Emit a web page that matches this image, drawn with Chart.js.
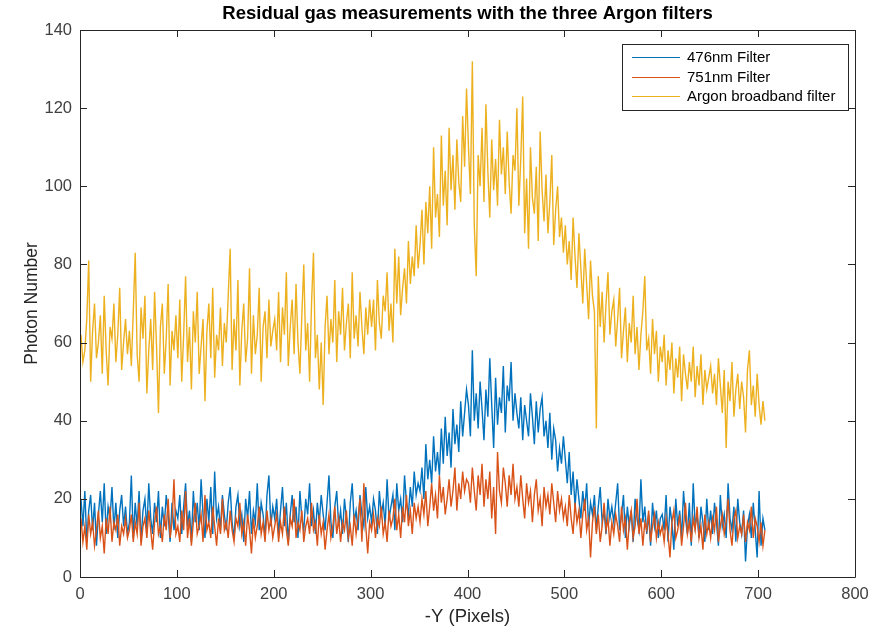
<!DOCTYPE html>
<html>
<head>
<meta charset="utf-8">
<script src="https://cdn.jsdelivr.net/npm/chart.js@4.4.1/dist/chart.umd.min.js"></script>
<style>
  html, body { margin: 0; padding: 0; background: #fff; }
  canvas { display: block; }
</style>
</head>
<body>
<canvas id="chart" width="873" height="627"></canvas>
<script>
// Pixel column sampling: first column and step between samples
const xStart = 1;
const xStep = 2;

const xTicks = [0, 100, 200, 300, 400, 500, 600, 700, 800];
const yTicks = [0, 20, 40, 60, 80, 100, 120, 140];

const labels476 = '476nm Filter';
const labels751 = '751nm Filter';
const labelsArgon = 'Argon broadband filter';

const blue476 = [
  20, 13, 22, 9, 17, 21, 12, 19, 8, 16, 22, 14, 24, 11, 18, 15, 23, 12, 19, 10, 17, 21, 13, 18, 11,
  14, 26, 10, 19, 13, 22, 9, 17, 20, 12, 24, 15, 11, 19, 14, 22, 10, 18, 13, 21, 16, 9, 19, 12, 17,
  15, 21, 11, 18, 24, 13, 17, 9, 22, 14, 19, 12, 25, 16, 10, 20, 14, 23, 11, 27, 15, 18, 12, 21, 16,
  12, 19, 23, 14, 10, 18, 21, 13, 16, 9, 20, 15, 22, 11, 17, 14, 24, 12, 19, 16, 10, 21, 26, 13, 18,
  15, 20, 11, 17, 23, 13, 19, 9, 16, 21, 14, 18, 10, 22, 15, 12, 20, 16, 24, 13, 17, 11, 19, 14, 21,
  16, 12, 19, 26, 14, 10, 18, 22, 13, 17, 11, 20, 15, 9, 19, 24, 14, 17, 12, 21, 16, 13, 23, 15, 18,
  14, 20, 17, 11, 22, 16, 19, 13, 25, 15, 18, 21, 12, 24, 17, 20, 14, 26, 19, 16, 23, 18, 27, 21, 24,
  22, 28, 20, 34, 25, 30, 24, 36, 27, 32, 26, 38, 29, 41, 31, 37, 28, 43, 34, 39, 32, 45, 36, 42, 48,
  44, 36, 58, 40, 47, 38, 50, 43, 35, 48, 41, 56, 44, 33, 51, 39, 46, 42, 54, 37, 49, 45, 55, 40, 47,
  42, 38, 46, 35, 44, 40, 36, 47, 41, 34, 45, 37, 43, 46, 36, 40, 33, 42, 30, 38, 35, 27, 33, 29, 36,
  30, 24, 32, 21, 27, 18, 25, 20, 15, 22, 17, 24, 13, 19, 16, 21, 12, 18, 23, 14, 17, 11, 20, 15, 18,
  14, 19, 24, 12, 16, 21, 10, 18, 13, 17, 9, 20, 15, 12, 25, 14, 18, 11, 16, 8, 19, 13, 17, 10, 15,
  16, 12, 21, 9, 18, 14, 7, 20, 13, 17, 10, 22, 15, 11, 19, 8, 24, 13, 16, 10, 18, 14, 9, 20, 12,
  17, 11, 19, 14, 8, 21, 13, 16, 10, 24, 15, 12, 18, 9, 20, 14, 11, 17, 4, 13, 16, 10, 19, 12, 5,
  22, 8, 15, 12
];

const orange751 = [
  15, 9, 13, 7, 16, 11, 14, 8, 12, 17, 10, 13, 6, 15, 11, 18, 9, 14, 12, 16, 8, 13, 11, 15, 10,
  12, 16, 9, 14, 11, 19, 8, 13, 15, 10, 17, 12, 7, 14, 18, 11, 13, 9, 16, 12, 20, 10, 14, 25, 11,
  13, 9, 17, 12, 22, 10, 15, 8, 14, 19, 11, 13, 16, 9, 21, 12, 14, 10, 18, 13, 8, 15, 11, 20, 12,
  14, 10, 17, 12, 9, 15, 13, 19, 11, 14, 8, 16, 12, 6, 15, 10, 13, 18, 11, 14, 9, 17, 12, 15, 10,
  13, 16, 9, 14, 11, 18, 12, 8, 15, 13, 20, 10, 14, 12, 17, 9, 13, 15, 11, 19, 12, 14, 8, 16, 11,
  14, 7, 12, 16, 10, 13, 18, 11, 15, 9, 14, 12, 17, 10, 13, 8, 16, 11, 15, 20, 9, 24, 13, 6, 14,
  12, 16, 10, 15, 13, 18, 11, 14, 9, 17, 13, 15, 20, 12, 16, 10, 18, 14, 21, 13, 17, 11, 19, 15, 18,
  14, 20, 16, 22, 13, 18, 24, 17, 21, 15, 26, 19, 23, 16, 20, 25, 18, 22, 28, 17, 24, 20, 27, 22, 25,
  24, 19, 28, 22, 17, 26, 21, 29, 18, 25, 20, 27, 15, 23, 11, 32, 22, 19, 28, 24, 18, 26, 21, 29, 20,
  23, 18, 26, 20, 15, 24, 19, 22, 14, 21, 25, 17, 20, 13, 23, 18, 21, 16, 24, 19, 14, 22, 17, 20, 15,
  18, 13, 21, 15, 11, 19, 14, 17, 10, 16, 20, 12, 15, 5, 14, 18, 11, 16, 9, 13, 19, 12, 15, 8, 14,
  11, 16, 13, 9, 18, 12, 15, 7, 14, 17, 10, 13, 20, 11, 15, 8, 14, 12, 17, 9, 13, 16, 10, 14, 11,
  13, 9, 15, 11, 5, 14, 17, 10, 12, 16, 8, 13, 19, 11, 14, 9, 15, 12, 18, 10, 13, 7, 16, 11, 14,
  10, 15, 12, 18, 9, 13, 16, 11, 14, 20, 12, 8, 15, 17, 10, 13, 11, 16, 9, 14, 12, 18, 10, 15, 13,
  9, 14, 8, 12
];

const argonBroad = [
  62, 55, 58, 66, 81, 50, 63, 70, 56, 60, 67, 52, 72, 58, 49, 64, 61, 70, 55, 62, 74, 53, 60, 66, 57,
  63, 54, 68, 83, 57, 50, 69, 61, 72, 47, 58, 66, 53, 73, 59, 42, 64, 70, 52, 61, 75, 49, 63, 58, 67,
  56, 71, 50, 62, 77, 55, 64, 48, 68, 60, 73, 52, 59, 66, 45, 63, 70, 56, 74, 51, 62, 58, 69, 54, 65,
  60, 72, 84, 53, 66, 58, 76, 49, 63, 70, 55, 61, 79, 52, 67, 57, 62, 74, 50, 64, 68, 56, 71, 59, 63,
  66, 58, 73, 55, 69, 62, 78, 54, 64, 71, 57, 75, 60, 52, 67, 80, 58, 65, 50, 70, 83, 56, 62, 48, 60,
  44, 64, 72, 57, 66, 60, 76, 55, 68, 62, 74, 58, 65, 70, 56, 78, 61, 67, 59, 73, 64, 57, 69, 62, 71,
  64, 71, 58, 76, 65, 61, 72, 68, 78, 63, 70, 60, 84, 70, 82, 67, 74, 79, 70, 86, 75, 82, 77, 90, 79,
  85, 94, 80, 96, 88, 100, 84, 110, 92, 98, 87, 113, 95, 104, 90, 115, 99, 108, 94, 112, 101, 96, 118, 105, 125,
  110, 98, 132, 90, 77, 108, 100, 115, 96, 121, 104, 92, 112, 99, 107, 95, 117, 103, 110, 98, 114, 101, 93, 108, 104,
  120, 95, 107, 123, 88, 102, 84, 110, 97, 93, 105, 86, 114, 99, 91, 103, 88, 96, 108, 85, 94, 100, 87, 92, 83,
  90, 80, 86, 76, 92, 82, 74, 88, 79, 70, 84, 75, 66, 81, 72, 68, 38, 77, 64, 73, 60, 70, 78, 62, 68,
  71, 59, 66, 74, 56, 63, 69, 55, 65, 60, 72, 57, 64, 53, 62, 68, 77, 58, 61, 52, 66, 57, 63, 50, 59,
  55, 62, 49, 58, 53, 60, 47, 56, 51, 59, 45, 57, 52, 48, 55, 50, 59, 46, 54, 49, 57, 44, 53, 48, 51,
  54, 47, 52, 44, 56, 49, 42, 53, 33, 50, 45, 55, 41, 48, 52, 43, 50, 46, 37, 53, 58, 44, 49, 41, 52,
  44, 39, 45, 40
];

const toPoints = (vals) => vals.map((v, i) => ({ x: xStart + i * xStep, y: v }));

const FONT = "'Liberation Sans', Arial, Helvetica, sans-serif";
const AXIS_COLOR = '#262626';
const TICK_LEN = 7;

// Boxed axes with inward ticks, axis titles, chart title and a boxed legend
const matlabAxes = {
  id: 'matlabAxes',
  afterDraw(chart) {
    const { ctx, chartArea: a, scales } = chart;
    const xs = scales.x, ys = scales.y;
    ctx.save();
    ctx.strokeStyle = AXIS_COLOR;
    ctx.lineWidth = 1;
    ctx.beginPath();
    ctx.rect(Math.round(a.left) + 0.5, Math.round(a.top) + 0.5, Math.round(a.right - a.left), Math.round(a.bottom - a.top));
    for (const t of xTicks) {
      const px = Math.round(xs.getPixelForValue(t)) + 0.5;
      ctx.moveTo(px, a.bottom); ctx.lineTo(px, a.bottom - TICK_LEN);
      ctx.moveTo(px, a.top); ctx.lineTo(px, a.top + TICK_LEN);
    }
    for (const t of yTicks) {
      const py = Math.round(ys.getPixelForValue(t)) + 0.5;
      ctx.moveTo(a.left, py); ctx.lineTo(a.left + TICK_LEN, py);
      ctx.moveTo(a.right, py); ctx.lineTo(a.right - TICK_LEN, py);
    }
    ctx.stroke();

    // titles
    ctx.fillStyle = '#000';
    ctx.textAlign = 'center';
    ctx.textBaseline = 'middle';
    ctx.font = 'bold 18.5px ' + FONT;
    ctx.fillText('Residual gas measurements with the three Argon filters', (a.left + a.right) / 2, 14);
    ctx.fillStyle = AXIS_COLOR;
    ctx.font = '18.5px ' + FONT;
    ctx.fillText('-Y (Pixels)', (a.left + a.right) / 2, 617);
    ctx.save();
    ctx.translate(32, (a.top + a.bottom) / 2);
    ctx.rotate(-Math.PI / 2);
    ctx.font = '17.5px ' + FONT;
    ctx.fillText('Photon Number', 0, 0);
    ctx.restore();

    // legend
    const lx = 622, ly = 44, lw = 226, lh = 66;
    ctx.fillStyle = '#fff';
    ctx.fillRect(lx, ly, lw, lh);
    ctx.strokeStyle = AXIS_COLOR;
    ctx.strokeRect(lx + 0.5, ly + 0.5, lw, lh);
    ctx.font = '15px ' + FONT;
    ctx.textAlign = 'left';
    chart.data.datasets.forEach((ds, i) => {
      const y = ly + 13 + i * 19.5;
      ctx.strokeStyle = ds.borderColor;
      ctx.lineWidth = 1.2;
      ctx.beginPath();
      ctx.moveTo(632, Math.round(y) + 0.5);
      ctx.lineTo(680, Math.round(y) + 0.5);
      ctx.stroke();
      ctx.fillStyle = '#000';
      ctx.fillText(ds.label, 687, y + 1);
    });
    ctx.restore();
  }
};

const lineStyle = (label, color, vals, order) => ({
  label,
  data: toPoints(vals),
  borderColor: color,
  borderWidth: 1.4,
  pointRadius: 0,
  tension: 0,
  fill: false,
  order,
});

new Chart(document.getElementById('chart'), {
  type: 'line',
  data: {
    datasets: [
      lineStyle(labels476, '#0072BD', blue476, 3),
      lineStyle(labels751, '#D95319', orange751, 2),
      lineStyle(labelsArgon, '#EDB120', argonBroad, 1),
    ],
  },
  options: {
    responsive: false,
    animation: false,
    layout: { padding: { top: 30, right: 18, left: 0, bottom: 0 } },
    plugins: { legend: { display: false }, tooltip: { enabled: false }, title: { display: false } },
    scales: {
      x: {
        type: 'linear', min: 0, max: 800,
        afterBuildTicks: (s) => { s.ticks = xTicks.map((v) => ({ value: v })); },
        afterFit: (s) => { s.height = 50; },
        grid: { display: false },
        border: { display: false },
        ticks: { color: '#404040', padding: 0, font: { family: FONT, size: 16.5 }, maxRotation: 0 },
      },
      y: {
        min: 0, max: 140,
        afterBuildTicks: (s) => { s.ticks = yTicks.map((v) => ({ value: v })); },
        afterFit: (s) => { s.width = 80; },
        grid: { display: false },
        border: { display: false },
        ticks: { color: '#404040', padding: 0, font: { family: FONT, size: 16.5 } },
      },
    },
  },
  plugins: [matlabAxes],
});
</script>
</body>
</html>
